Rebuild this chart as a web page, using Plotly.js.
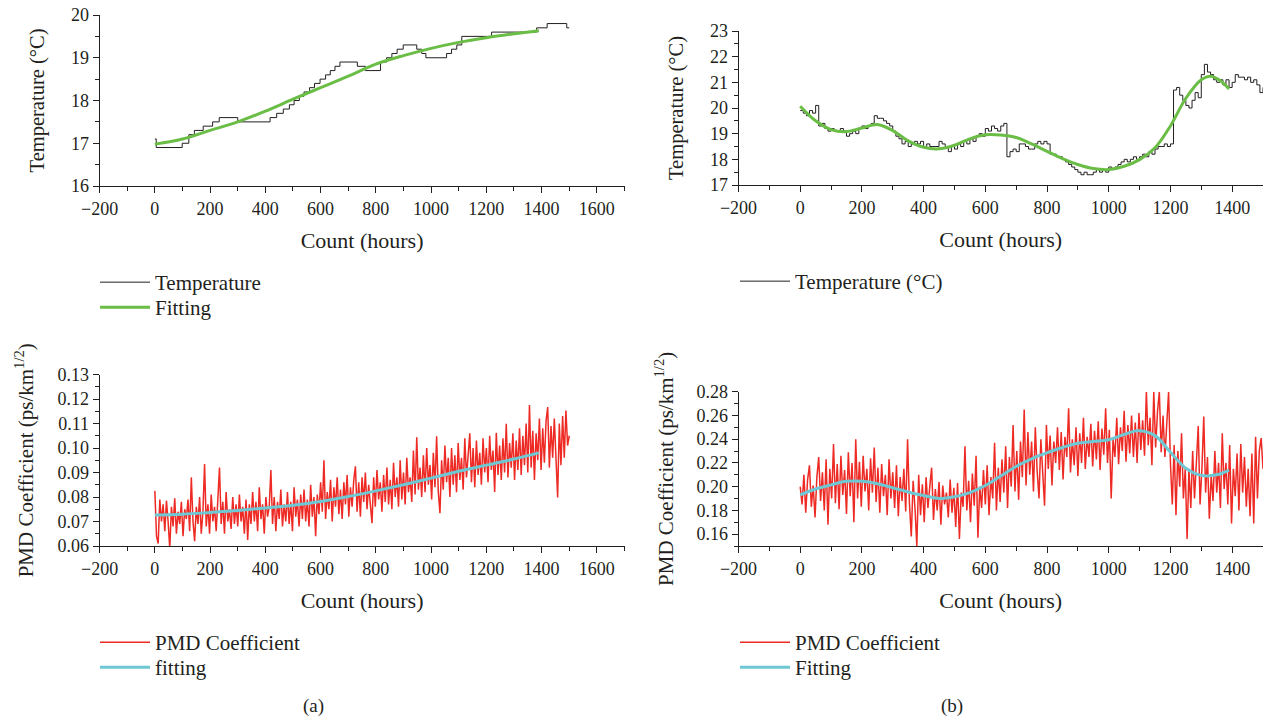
<!DOCTYPE html>
<html>
<head>
<meta charset="utf-8">
<script src="https://cdn.plot.ly/plotly-3.0.1.min.js"></script>
<style>html,body{margin:0;padding:0;background:#fff;}#chart{width:1263px;height:720px;}</style>
</head>
<body>
<div id="chart"></div>
<script>
// ---------- (a) Temperature: step data (change points) ----------
const tempA_x = [0, 5, 99, 123, 143, 175, 209, 233, 300, 417, 441, 465, 487, 504, 523, 540, 560, 578, 598, 618, 635, 652, 670, 733, 762, 817, 839, 858, 877, 899, 948, 966, 981, 1056, 1074, 1093, 1111, 1219, 1382, 1420, 1491, 1500];
const tempA_y = [17.1, 16.9, 17.0, 17.2, 17.3, 17.4, 17.5, 17.6, 17.5, 17.6, 17.7, 17.8, 17.9, 18.0, 18.1, 18.2, 18.3, 18.4, 18.5, 18.6, 18.7, 18.8, 18.9, 18.8, 18.7, 18.9, 19.0, 19.1, 19.2, 19.3, 19.2, 19.1, 19.0, 19.1, 19.2, 19.3, 19.5, 19.6, 19.7, 19.8, 19.7, 19.7];
const fitA_x = [0, 100, 200, 300, 400, 500, 600, 700, 800, 900, 1000, 1100, 1200, 1300, 1390];
const fitA_y = [16.98, 17.10, 17.30, 17.50, 17.75, 18.03, 18.30, 18.57, 18.85, 19.05, 19.22, 19.36, 19.47, 19.56, 19.63];

// ---------- (b) Temperature: readings every 10 hours from 0 ----------
const tempB_y = [
 19.9, 19.8, 19.7, 19.9, 19.8, 20.1, 19.3, 19.4, 19.2, 19.1,
 19.2, 19.1, 19.1, 19.2, 19.1, 18.9, 19.0, 19.1, 19.0, 19.2,
 19.3, 19.2, 19.3, 19.4, 19.7, 19.6, 19.6, 19.5, 19.4, 19.3,
 19.1, 18.9, 18.8, 18.6, 18.7, 18.5, 18.6, 18.7, 18.6, 18.7,
 18.5, 18.6, 18.5, 18.5, 18.5, 18.7, 18.6, 18.5, 18.3, 18.5,
 18.4, 18.6, 18.5, 18.7, 18.6, 18.8, 18.7, 18.9, 19.0, 18.9,
 19.2, 19.1, 19.3, 19.2, 19.1, 19.3, 19.4, 18.1, 18.3, 18.4,
 18.3, 18.6, 18.6, 18.5, 18.4, 18.4, 18.6, 18.7, 18.6, 18.7,
 18.6, 18.2, 18.2, 18.1, 18.1, 18.0, 17.9, 17.8, 17.7, 17.6,
 17.5, 17.4, 17.5, 17.4, 17.4, 17.5, 17.6, 17.5, 17.6, 17.5,
 17.7, 17.6, 17.7, 17.8, 17.9, 18.0, 17.9, 18.0, 18.1, 18.0,
 18.1, 18.2, 18.1, 18.3, 18.2, 18.4, 18.5, 18.5, 18.6, 18.5,
 18.6, 20.7, 20.8, 20.5, 20.3, 20.1, 20.0, 20.3, 20.6, 20.4,
 21.3, 21.7, 21.4, 21.3, 21.1, 21.0, 21.1, 20.9, 21.1, 20.8,
 21.0, 21.3, 21.2, 21.2, 21.1, 21.2, 21.0, 21.1, 20.9, 20.6,
 20.8];
const fitB_x = [0, 50, 100, 150, 200, 250, 300, 350, 400, 450, 500, 550, 600, 650, 700, 750, 800, 850, 900, 950, 1000, 1050, 1100, 1150, 1200, 1250, 1300, 1330, 1360, 1390];
const fitB_y = [20.07, 19.50, 19.16, 19.08, 19.22, 19.36, 19.12, 18.72, 18.47, 18.41, 18.55, 18.80, 18.96, 18.95, 18.85, 18.60, 18.31, 18.03, 17.80, 17.64, 17.60, 17.73, 17.99, 18.45, 19.30, 20.38, 21.10, 21.24, 21.08, 20.74];

// ---------- (a) PMD coefficient: readings every 6 hours from 0 ----------
const pmdA_y = [
 0.0825, 0.0640, 0.0610, 0.0790, 0.0700, 0.0770, 0.0660, 0.0785, 0.0700, 0.0590,
 0.0760, 0.0680, 0.0795, 0.0650, 0.0740, 0.0690, 0.0780, 0.0640, 0.0750, 0.0710,
 0.0790, 0.0660, 0.0880, 0.0700, 0.0620, 0.0760, 0.0690, 0.0800, 0.0650, 0.0740,
 0.0935, 0.0680, 0.0770, 0.0650, 0.0810, 0.0700, 0.0760, 0.0660, 0.0790, 0.0920,
 0.0690, 0.0780, 0.0650, 0.0820, 0.0700, 0.0750, 0.0670, 0.0800, 0.0690, 0.0770,
 0.0680, 0.0810, 0.0700, 0.0760, 0.0650, 0.0790, 0.0625, 0.0770, 0.0690, 0.0820,
 0.0700, 0.0780, 0.0660, 0.0840, 0.0710, 0.0770, 0.0650, 0.0800, 0.0720, 0.0760,
 0.0910, 0.0690, 0.0800, 0.0660, 0.0780, 0.0710, 0.0830, 0.0680, 0.0770, 0.0700,
 0.0820, 0.0690, 0.0780, 0.0660, 0.0840, 0.0720, 0.0790, 0.0680, 0.0810, 0.0710,
 0.0830, 0.0700, 0.0790, 0.0680, 0.0850, 0.0720, 0.0800, 0.0640, 0.0810, 0.0730,
 0.0860, 0.0740, 0.0950, 0.0710, 0.0820, 0.0750, 0.0870, 0.0700, 0.0840, 0.0760,
 0.0880, 0.0730, 0.0830, 0.0710, 0.0860, 0.0770, 0.0890, 0.0720, 0.0840, 0.0760,
 0.0870, 0.0925, 0.0740, 0.0860, 0.0720, 0.0880, 0.0780, 0.0900, 0.0750, 0.0850,
 0.0770, 0.0693, 0.0880, 0.0760, 0.0910, 0.0790, 0.0860, 0.0740, 0.0890, 0.0780,
 0.0920, 0.0770, 0.0870, 0.0750, 0.0940, 0.0800, 0.0880, 0.0760, 0.0950, 0.0790,
 0.0900, 0.0770, 0.0960, 0.0820, 0.0880, 0.0780, 0.0990, 0.0810, 0.1044, 0.0830,
 0.0920, 0.0800, 0.0970, 0.0820, 0.1000, 0.0850, 0.0930, 0.0790, 0.0980, 0.0840,
 0.1048, 0.0820, 0.0734, 0.0950, 0.0830, 0.1010, 0.0860, 0.0960, 0.0800, 0.1000,
 0.0850, 0.0970, 0.0820, 0.1020, 0.0870, 0.0960, 0.0830, 0.1040, 0.0880, 0.0990,
 0.1060, 0.0860, 0.1000, 0.0840, 0.1030, 0.0890, 0.0980, 0.0850, 0.1040, 0.0900,
 0.1000, 0.0860, 0.1050, 0.0910, 0.0990, 0.0820, 0.1062, 0.0890, 0.1010, 0.0870,
 0.1040, 0.0900, 0.1099, 0.0880, 0.1020, 0.0920, 0.1060, 0.0870, 0.1030, 0.0910,
 0.1080, 0.0890, 0.1050, 0.0930, 0.1100, 0.0900, 0.1175, 0.0920, 0.1070, 0.0870,
 0.1060, 0.0950, 0.1120, 0.0910, 0.1080, 0.0940, 0.1110, 0.1167, 0.0920, 0.1090,
 0.0960, 0.1120, 0.0940, 0.0798, 0.1100, 0.0930, 0.1130, 0.0960, 0.1153, 0.1010,
 0.1050];
const fitPA_x = [0, 100, 200, 300, 400, 500, 600, 700, 800, 900, 1000, 1100, 1200, 1300, 1390];
const fitPA_y = [0.0727, 0.0730, 0.0737, 0.0745, 0.0755, 0.0766, 0.0782, 0.0802, 0.0825, 0.0850, 0.0877, 0.0905, 0.0930, 0.0955, 0.0980];

// ---------- (b) PMD coefficient: readings every 6 hours from 0 ----------
const pmdB_y = [
 0.2000, 0.1850, 0.2100, 0.1780, 0.2060, 0.2180, 0.1830, 0.2010, 0.1740, 0.2080,
 0.2250, 0.1880, 0.2120, 0.1800, 0.2230, 0.1680, 0.2150, 0.1900, 0.2360, 0.1860,
 0.2190, 0.1810, 0.2260, 0.1930, 0.2140, 0.1770, 0.2290, 0.1920, 0.2200, 0.1700,
 0.2400, 0.1900, 0.2210, 0.1830, 0.2260, 0.1960, 0.2150, 0.1800, 0.2240, 0.1950,
 0.2330, 0.1870, 0.2160, 0.1780, 0.2190, 0.1920, 0.2100, 0.1760, 0.2230, 0.1900,
 0.2120, 0.1820, 0.2180, 0.1750, 0.2080, 0.1880, 0.2150, 0.1790, 0.2400, 0.1860,
 0.1580, 0.2050, 0.1820, 0.1500, 0.2100, 0.1760, 0.2020, 0.1700, 0.2080, 0.1820,
 0.2000, 0.2160, 0.1720, 0.1980, 0.1800, 0.2040, 0.1680, 0.2010, 0.1850, 0.1950,
 0.1740, 0.2060, 0.1780, 0.1990, 0.1660, 0.2030, 0.1560, 0.1950, 0.1830, 0.2340,
 0.1800, 0.2050, 0.1700, 0.2110, 0.1840, 0.2260, 0.1570, 0.2000, 0.1820, 0.2140,
 0.1850, 0.2180, 0.1760, 0.2080, 0.1900, 0.2370, 0.1800, 0.2160, 0.1870, 0.2230,
 0.1950, 0.2340, 0.1820, 0.2250, 0.2000, 0.2520, 0.1960, 0.2300, 0.1890, 0.2380,
 0.2080, 0.2650, 0.2010, 0.2460, 0.2100, 0.2380, 0.1960, 0.2500, 0.2130, 0.1900,
 0.2400, 0.2080, 0.1840, 0.2520, 0.2150, 0.2430, 0.2010, 0.2380, 0.2200, 0.2500,
 0.2140, 0.2460, 0.2060, 0.2420, 0.2250, 0.2660, 0.2120, 0.2400, 0.2180, 0.2500,
 0.2090, 0.2450, 0.2200, 0.2580, 0.2150, 0.2420, 0.2250, 0.2530, 0.2170, 0.2470,
 0.2230, 0.2550, 0.2140, 0.2490, 0.2270, 0.2660, 0.2200, 0.2480, 0.1900, 0.2400,
 0.2250, 0.2580, 0.2190, 0.2500, 0.2300, 0.2640, 0.2210, 0.2520, 0.2280, 0.2600,
 0.2250, 0.2540, 0.2200, 0.2620, 0.2310, 0.2560, 0.2260, 0.2800, 0.2350, 0.2580,
 0.2180, 0.2800, 0.2330, 0.2630, 0.2800, 0.2290, 0.2600, 0.2250, 0.2550, 0.2800,
 0.2200, 0.1850, 0.2350, 0.1760, 0.2300, 0.2000, 0.2450, 0.1900, 0.2150, 0.1560,
 0.2150, 0.1820, 0.2300, 0.1900, 0.2200, 0.2510, 0.1850, 0.2150, 0.2590, 0.1950,
 0.2250, 0.1730, 0.2100, 0.1880, 0.2300, 0.1950, 0.2200, 0.1820, 0.2450, 0.1980,
 0.2200, 0.1850, 0.2350, 0.1690, 0.2150, 0.1920, 0.2280, 0.1800, 0.2360, 0.1950,
 0.2250, 0.1830, 0.2150, 0.1750, 0.2280, 0.1690, 0.2420, 0.1900, 0.2300, 0.2410,
 0.2150];
const fitPB_x = [0, 50, 100, 150, 200, 250, 300, 350, 400, 450, 500, 550, 600, 650, 700, 750, 800, 850, 900, 950, 1000, 1050, 1100, 1150, 1200, 1250, 1300, 1350, 1390];
const fitPB_y = [0.1930, 0.1980, 0.2015, 0.2045, 0.2045, 0.2025, 0.1990, 0.1955, 0.1925, 0.1900, 0.1915, 0.1950, 0.2010, 0.2090, 0.2170, 0.2235, 0.2285, 0.2330, 0.2365, 0.2380, 0.2395, 0.2440, 0.2472, 0.2430, 0.2290, 0.2155, 0.2095, 0.2100, 0.2140];

// ---------- labels ----------
const xTitle = 'Count (hours)';
const tempTitle = 'Temperature (°C)';
const pmdTitle = 'PMD Coefficient (ps/km<sup>1/2</sup>)';

// ---------- styling ----------
const FONT = '"Liberation Serif", "Times New Roman", serif';
const INK = '#231f20';
const GREEN = '#6abd45';
const RED = '#ee2a24';
const CYAN = '#6ec8d3';
const W = 1263, H = 720;
const px = v => v / W;
const py = v => 1 - v / H;

const traces = [
  {x: tempA_x, y: tempA_y, xaxis: 'x', yaxis: 'y', type: 'scatter', mode: 'lines',
   line: {color: INK, width: 1, shape: 'hv'}, name: 'Temperature', legend: 'legend'},
  {x: fitA_x, y: fitA_y, xaxis: 'x', yaxis: 'y', type: 'scatter', mode: 'lines',
   line: {color: GREEN, width: 3, shape: 'spline'}, name: 'Fitting', legend: 'legend2'},

  {x0: 0, dx: 10, y: tempB_y, xaxis: 'x2', yaxis: 'y2', type: 'scatter', mode: 'lines',
   line: {color: INK, width: 1, shape: 'hv'}, name: 'Temperature (°C)', legend: 'legend3'},
  {x: fitB_x, y: fitB_y, xaxis: 'x2', yaxis: 'y2', type: 'scatter', mode: 'lines',
   line: {color: GREEN, width: 3, shape: 'spline'}, name: 'Fitting', showlegend: false},

  {x0: 0, dx: 6, y: pmdA_y, xaxis: 'x3', yaxis: 'y3', type: 'scatter', mode: 'lines',
   line: {color: RED, width: 1.5}, name: 'PMD Coefficient', legend: 'legend4'},
  {x: fitPA_x, y: fitPA_y, xaxis: 'x3', yaxis: 'y3', type: 'scatter', mode: 'lines',
   line: {color: CYAN, width: 3, shape: 'spline'}, name: 'fitting', legend: 'legend5'},

  {x0: 0, dx: 6, y: pmdB_y, xaxis: 'x4', yaxis: 'y4', type: 'scatter', mode: 'lines',
   line: {color: RED, width: 1.5}, name: 'PMD Coefficient', legend: 'legend6'},
  {x: fitPB_x, y: fitPB_y, xaxis: 'x4', yaxis: 'y4', type: 'scatter', mode: 'lines',
   line: {color: CYAN, width: 3, shape: 'spline'}, name: 'Fitting', legend: 'legend7'}
];

function xa(domain, range, anchor) {
  return {
    domain: domain, range: range, anchor: anchor,
    showline: true, linecolor: INK, linewidth: 1,
    ticks: 'outside', ticklen: 6, tickcolor: INK, tickwidth: 1,
    dtick: 200, tick0: 0,
    minor: {ticks: 'outside', ticklen: 4, tickcolor: INK, dtick: 100, tick0: 0},
    showgrid: false, zeroline: false,
    tickfont: {family: FONT, size: 18, color: INK},
    title: {text: xTitle, font: {family: FONT, size: 22, color: INK}, standoff: 15},
    fixedrange: true
  };
}
function ya(domain, range, anchor, dtick, minorDtick, fmt, title, standoff, tsize) {
  return {
    domain: domain, range: range, anchor: anchor,
    showline: true, linecolor: INK, linewidth: 1,
    ticks: 'outside', ticklen: 6, tickcolor: INK, tickwidth: 1,
    dtick: dtick, tick0: 0, tickformat: fmt,
    minor: {ticks: 'outside', ticklen: 4, tickcolor: INK, dtick: minorDtick, tick0: 0},
    showgrid: false, zeroline: false,
    tickfont: {family: FONT, size: 18, color: INK},
    title: {text: title, font: {family: FONT, size: tsize, color: INK}, standoff: standoff},
    fixedrange: true
  };
}

function leg(left, centerY) {
  return {
    font: {family: FONT, size: 21, color: INK},
    bgcolor: 'rgba(0,0,0,0)', borderwidth: 0,
    xanchor: 'left', yanchor: 'top', tracegroupgap: 0, itemwidth: 50,
    x: px(left), y: py(centerY - 21)
  };
}

const layout = {
  width: W, height: H,
  margin: {l: 0, r: 0, t: 0, b: 0},
  paper_bgcolor: '#ffffff', plot_bgcolor: '#ffffff',
  showlegend: true,
  font: {family: FONT, color: INK},
  xaxis: xa([px(99.6), px(624.5)], [-200, 1700], 'y'),
  yaxis: ya([py(186), py(15)], [16, 20], 'x', 1, 0.5, '', tempTitle, 20, 20.5),
  xaxis2: xa([px(738.5), 1], [-200, 1500], 'y2'),
  yaxis2: ya([py(185), py(31)], [17, 23], 'x2', 1, 0.5, '', tempTitle, 20, 20.5),
  xaxis3: xa([px(99.6), px(624.5)], [-200, 1700], 'y3'),
  yaxis3: ya([py(546), py(374.5)], [0.06, 0.13], 'x3', 0.01, 0.005, '.2f', pmdTitle, 18, 21),
  xaxis4: xa([px(738.5), 1], [-200, 1500], 'y4'),
  yaxis4: ya([py(546), py(391.7)], [0.15, 0.28], 'x4', 0.02, 0.01, '.2f', pmdTitle, 17, 21),
  legend: leg(95, 283),
  legend2: leg(95, 308),
  legend3: leg(735, 282),
  legend4: leg(95, 643),
  legend5: leg(95, 668),
  legend6: leg(735, 643),
  legend7: leg(735, 668),
  annotations: [
    {text: '(a)', x: px(313), y: py(706), xref: 'paper', yref: 'paper', showarrow: false,
     xanchor: 'center', yanchor: 'middle', font: {family: FONT, size: 19, color: INK}},
    {text: '(b)', x: px(952), y: py(706), xref: 'paper', yref: 'paper', showarrow: false,
     xanchor: 'center', yanchor: 'middle', font: {family: FONT, size: 19, color: INK}}
  ]
};

Plotly.newPlot('chart', traces, layout, {displayModeBar: false, staticPlot: true});
</script>
</body>
</html>
